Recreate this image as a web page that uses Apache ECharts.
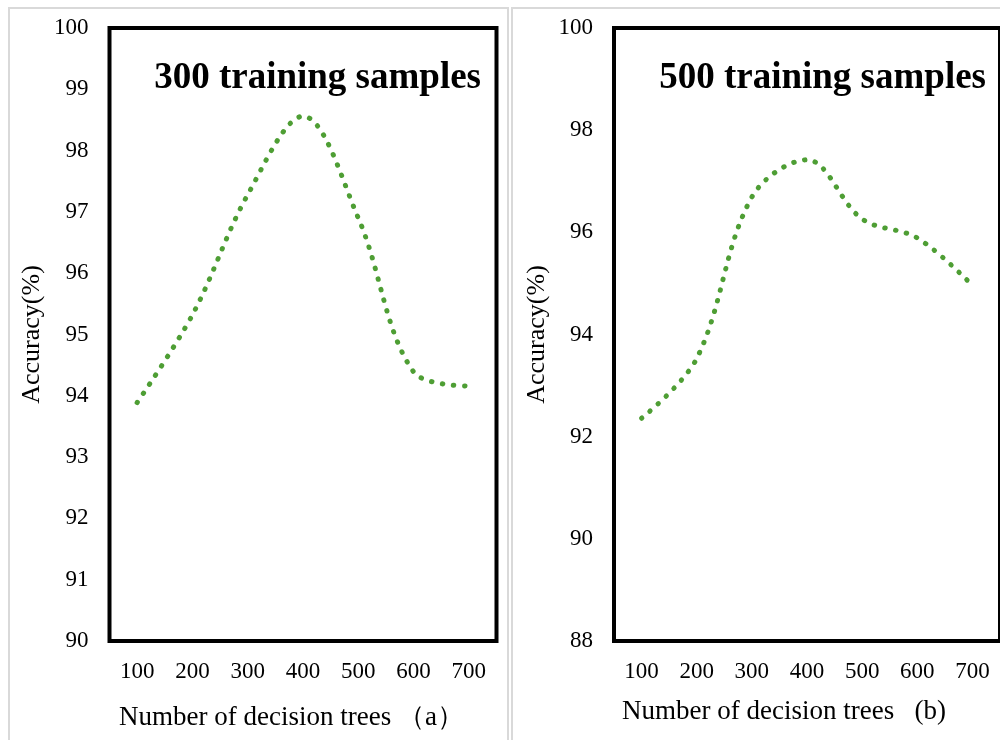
<!DOCTYPE html>
<html>
<head>
<meta charset="utf-8">
<script src="https://cdn.jsdelivr.net/npm/echarts@6/dist/echarts.min.js"></script>
<style>
  html, body { margin: 0; padding: 0; background: #fff; }
  #chart { width: 1000px; height: 740px; }
</style>
</head>
<body>
<div id="chart"></div>
<script>
const treeCounts = ["100", "200", "300", "400", "500", "600", "700"];
const acc300 = [93.89, 95.32, 97.28, 98.56, 96.9, 94.39, 94.16];
const acc500 = [92.36, 93.53, 96.69, 97.42, 96.26, 95.89, 94.96];

const serif = "'Liberation Serif', 'Times New Roman', serif";
const green = "#4e9e34";

const chart = echarts.init(document.getElementById("chart"), null, { renderer: "canvas" });

const yAxisBase = {
  type: "value",
  axisLine: { show: false },
  axisTick: { show: false },
  splitLine: { show: false },
  axisLabel: { color: "#000", fontFamily: serif, fontSize: 23, margin: 21 },
  name: "Accuracy(%)",
  nameLocation: "middle",
  nameGap: 64,
  nameTextStyle: { color: "#000", fontFamily: serif, fontSize: 26 },
};

const xAxisBase = {
  type: "category",
  data: treeCounts,
  boundaryGap: true,
  axisLine: { show: false },
  axisTick: { show: false },
  splitLine: { show: false },
  axisLabel: { color: "#000", fontFamily: serif, fontSize: 23, margin: 19 },
};

const lineBase = {
  type: "line",
  smooth: 0.35,
  symbol: "none",
  lineStyle: { color: green, width: 5, type: [0.5, 10.5], cap: "round" },
};

chart.setOption({
  backgroundColor: "#fff",
  animation: false,
  grid: [
    { left: 109.5, top: 28, width: 387, height: 613, show: true, borderColor: "#000", borderWidth: 4 },
    { left: 614, top: 28, width: 387, height: 613, show: true, borderColor: "#000", borderWidth: 4 },
  ],
  xAxis: [
    { ...xAxisBase, gridIndex: 0 },
    { ...xAxisBase, gridIndex: 1 },
  ],
  yAxis: [
    { ...yAxisBase, gridIndex: 0, min: 90, max: 100, interval: 1 },
    { ...yAxisBase, gridIndex: 1, min: 88, max: 100, interval: 2 },
  ],
  series: [
    { ...lineBase, name: "300", xAxisIndex: 0, yAxisIndex: 0, data: acc300 },
    { ...lineBase, name: "500", xAxisIndex: 1, yAxisIndex: 1, data: acc500 },
  ],
  graphic: [
    // light frames round each panel
    { type: "rect", shape: { x: 9, y: 8, width: 499, height: 760 }, style: { fill: "none", stroke: "#d9d9d9", lineWidth: 2 }, z: -1 },
    { type: "rect", shape: { x: 512, y: 8, width: 499, height: 760 }, style: { fill: "none", stroke: "#d9d9d9", lineWidth: 2 }, z: -1 },
    { type: "text", x: 481, y: 78, style: { text: "300 training samples", font: "bold 37px " + serif, fill: "#000", textAlign: "right", textVerticalAlign: "middle" } },
    { type: "text", x: 986, y: 78, style: { text: "500 training samples", font: "bold 37px " + serif, fill: "#000", textAlign: "right", textVerticalAlign: "middle" } },
    { type: "text", x: 119, y: 718, style: { text: "Number of decision trees （a）", font: "27px " + serif, fill: "#000", textAlign: "left", textVerticalAlign: "middle" } },
    { type: "text", x: 622, y: 712, style: { text: "Number of decision trees   (b)", font: "27px " + serif, fill: "#000", textAlign: "left", textVerticalAlign: "middle" } },
  ],
});
</script>
</body>
</html>
